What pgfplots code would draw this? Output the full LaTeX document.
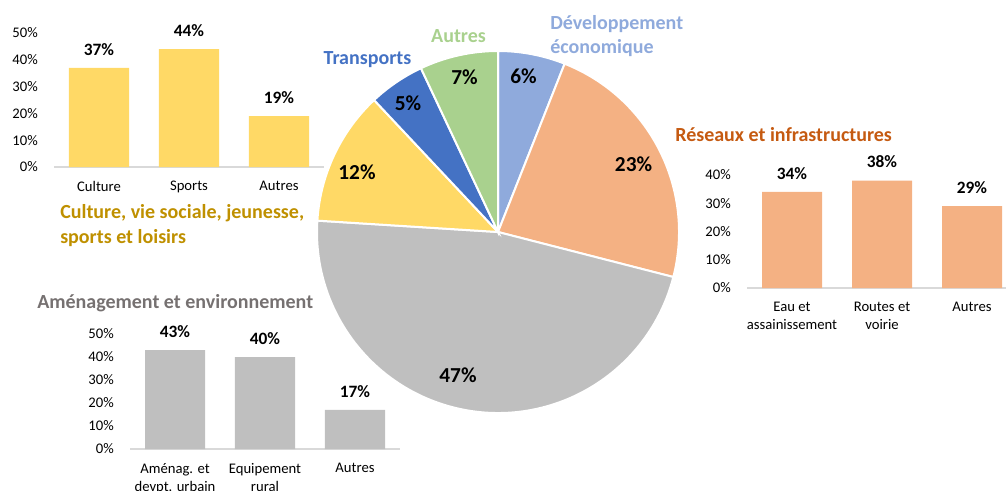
\documentclass[border=0pt]{standalone}
\usepackage{fontspec}
\setmainfont{Carlito}
\usepackage{pgfplots}
\pgfplotsset{compat=1.18}
\definecolor{cyel}{HTML}{FFD966}
\definecolor{cora}{HTML}{F4B183}
\definecolor{cgray}{HTML}{BFBFBF}
\definecolor{cdev}{HTML}{8FAADC}
\definecolor{ctra}{HTML}{4472C4}
\definecolor{caut}{HTML}{A9D18E}
\definecolor{tcul}{HTML}{BF9000}
\definecolor{tres}{HTML}{C55A11}
\definecolor{tame}{HTML}{767171}
\definecolor{cline}{HTML}{D9D9D9}
\pgfplotsset{
  minibar/.style={
    scale only axis, width=202.5pt, anchor=south west,
    ybar, bar width=0.6667, xmin=-0.5, xmax=2.5, ymin=0, enlargelimits=false,
    xtick={0,1,2}, axis lines=left, y axis line style={draw=none},
    x axis line style={-, draw=cline, line width=1.5pt},
    major tick length=0pt, tick style={draw=none},
    /pgf/number format/assume math mode=true,
    yticklabel={\pgfmathprintnumber{\tick}\%},
    yticklabel style={anchor=east, inner sep=0pt, xshift=-12pt, font=\fontsize{11}{12}\selectfont},
    xticklabel style={align=center, anchor=north, inner sep=0pt, yshift=-10.5pt, font=\fontsize{11}{13.5}\selectfont},
    nodes near coords={\pgfmathprintnumber{\pgfplotspointmeta}\%},
    nodes near coords style={font=\bfseries\fontsize{13}{15}\selectfont, anchor=base, inner sep=0pt, yshift=9.5pt, text=black},
    clip=false,
  }
}
\newcommand\pieslice[3]{%
  \fill[#3, draw=white, line width=1.5pt] (axis cs:0,0) -- ++({90-3.6*(#1)}:135.75pt)
    arc[start angle={90-3.6*(#1)}, end angle={90-3.6*(#1+#2)}, radius=135.75pt] -- cycle;}
\begin{document}
\begin{tikzpicture}
\useasboundingbox (0,0) rectangle (754.5pt,367.5pt);
% pie
\begin{axis}[at={(373.5pt,193.5pt)}, anchor=center, scale only axis,
  width=271.5pt, height=271.5pt, xmin=-1, xmax=1, ymin=-1, ymax=1,
  hide axis, clip=false]
  \pieslice{0}{6}{cdev}
  \pieslice{6}{23}{cora}
  \pieslice{29}{47}{cgray}
  \pieslice{76}{12}{cyel}
  \pieslice{88}{5}{ctra}
  \pieslice{93}{7}{caut}
  \begin{scope}[every node/.style={font=\bfseries\fontsize{16}{18}\selectfont}]
  \node at (axis cs:0.141,0.859) {6\%};
  \node at (axis cs:0.749,0.373) {23\%};
  \node at (axis cs:-0.221,-0.790) {47\%};
  \node at (axis cs:-0.779,0.331) {12\%};
  \node at (axis cs:-0.497,0.710) {5\%};
  \node at (axis cs:-0.185,0.856) {7\%};
  \end{scope}
\end{axis}
% titles
\begin{scope}[every node/.style={font=\bfseries\fontsize{15}{18}\selectfont, inner sep=0pt}]
\node[text=ctra] at (275.6pt,322.5pt) {Transports};
\node[text=caut] at (343.9pt,340.5pt) {Autres};
\node[text=cdev, anchor=west, align=left] at (412.5pt,340.5pt) {Développement\\économique};
\node[text=tres, anchor=west] at (506.25pt,266.25pt) {Réseaux et infrastructures};
\node[text=tcul, anchor=west, align=left, font=\bfseries\fontsize{15}{18.75}\selectfont] at (45pt,198.4pt) {Culture, vie sociale, jeunesse,\\sports et loisirs};
\node[text=tame, anchor=west] at (27.75pt,140.25pt) {Aménagement et environnement};
\end{scope}
% bar charts
\begin{axis}[minibar, at={(40.5pt,242.25pt)}, height=100.5pt, ymax=50, ytick={0,10,...,50},
  xticklabels={Culture,Sports,Autres}]
  \addplot[fill=cyel, draw=none] coordinates {(0,37) (1,44) (2,19)};
\end{axis}
\begin{axis}[minibar, at={(560.25pt,151.5pt)}, height=84.75pt, ymax=40, ytick={0,10,...,40},
  xticklabels={{Eau et\\assainissement},{Routes et\\voirie},Autres}]
  \addplot[fill=cora, draw=none] coordinates {(0,34) (1,38) (2,29)};
\end{axis}
\begin{axis}[minibar, at={(97.5pt,30.75pt)}, height=86.25pt, ymax=50, ytick={0,10,...,50},
  xticklabels={{Aménag. et\\devpt. urbain},{Equipement\\rural},Autres}]
  \addplot[fill=cgray, draw=none] coordinates {(0,43) (1,40) (2,17)};
\end{axis}
\end{tikzpicture}
\end{document}
